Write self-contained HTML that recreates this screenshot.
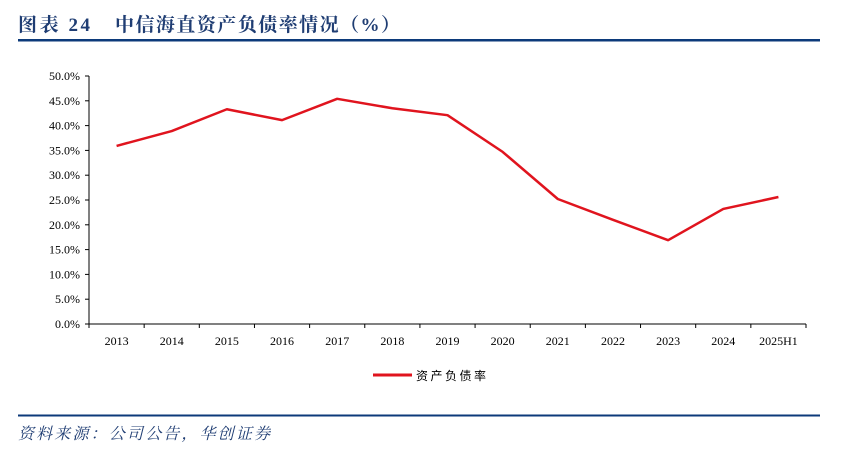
<!DOCTYPE html>
<html><head><meta charset="utf-8"><style>
body{margin:0;background:#fff;}
svg{display:block;}
</style></head><body>
<svg width="845" height="455" xmlns="http://www.w3.org/2000/svg">
<text x="18" y="31" textLength="72" lengthAdjust="spacing" font-family="'Liberation Serif','Noto Serif CJK SC',serif" font-weight="bold" font-size="19" fill="#1f3d73">图表 24</text>
<text x="115" y="31" textLength="285" lengthAdjust="spacing" font-family="'Liberation Serif','Noto Serif CJK SC',serif" font-weight="bold" font-size="19" fill="#1f3d73">中信海直资产负债率情况（%）</text>
<rect x="18" y="39" width="802" height="2.5" fill="#0c3a7a"/>
<g id="plot"></g>
<g>
<line x1="373" y1="375" x2="412" y2="375" stroke="#e0141e" stroke-width="3"/>
<text x="416" y="380" textLength="70" lengthAdjust="spacing" font-family="'Liberation Serif','Noto Sans CJK SC',serif" font-size="12" fill="#000">资产负债率</text>
</g>
<rect x="18" y="414.5" width="802" height="2" fill="#0c3a7a"/>
<text x="18" y="439" textLength="252" lengthAdjust="spacing" font-family="'Liberation Serif','Noto Serif CJK SC',serif" font-style="italic" font-size="16" fill="#1f3d73">资料来源：公司公告，华创证券</text>
</svg>
<script>
const categories=["2013","2014","2015","2016","2017","2018","2019","2020","2021","2022","2023","2024","2025H1"];
const values=[35.9,38.9,43.3,41.1,45.4,43.5,42.1,34.7,25.2,21.0,16.9,23.2,25.6];
const yTicks=[0,5,10,15,20,25,30,35,40,45,50];
const NS="http://www.w3.org/2000/svg";
const g=document.getElementById('plot');
const x0=89,x1=806,yTop=76,yBot=324,yMax=50;
const step=(x1-x0)/categories.length;
const xs=i=>x0+step*(i+0.5);
const ys=v=>yBot-(v/yMax)*(yBot-yTop);
function mk(t,a){const e=document.createElementNS(NS,t);for(const k in a)e.setAttribute(k,a[k]);g.appendChild(e);return e;}
let e=mk('line',{x1:x0,y1:yTop,x2:x0,y2:yBot,stroke:'#000','stroke-width':1});


e=mk('line',{x1:x0,y1:yBot,x2:x1,y2:yBot,stroke:'#000','stroke-width':1});


yTicks.forEach(v=>{
 const y=ys(v);
 let t=mk('line',{x1:x0-4,y1:y,x2:x0,y2:y,stroke:'#000'});
 
 
 let l=mk('text',{x:x0-9,y:y+4,'text-anchor':'end','font-family':"'Liberation Serif',serif",'font-size':12,fill:'#000'});
 l.textContent=v.toFixed(1)+'%';
 
 
});
for(let i=0;i<=categories.length;i++){
 const x=x0+step*i;
 let t=mk('line',{x1:x,y1:yBot,x2:x,y2:yBot+4,stroke:'#000'});
 
 
}
categories.forEach((c,i)=>{
 let l=mk('text',{x:xs(i),y:345,'text-anchor':'middle','font-family':"'Liberation Serif',serif",'font-size':12,fill:'#000'});
 l.textContent=c;
 
 
});
const pts=values.map((v,i)=>xs(i)+','+ys(v)).join(' ');
const p=mk('polyline',{points:pts,fill:'none',stroke:'#e0141e','stroke-width':2.5,'stroke-linejoin':'round'});


</script>
</body></html>
